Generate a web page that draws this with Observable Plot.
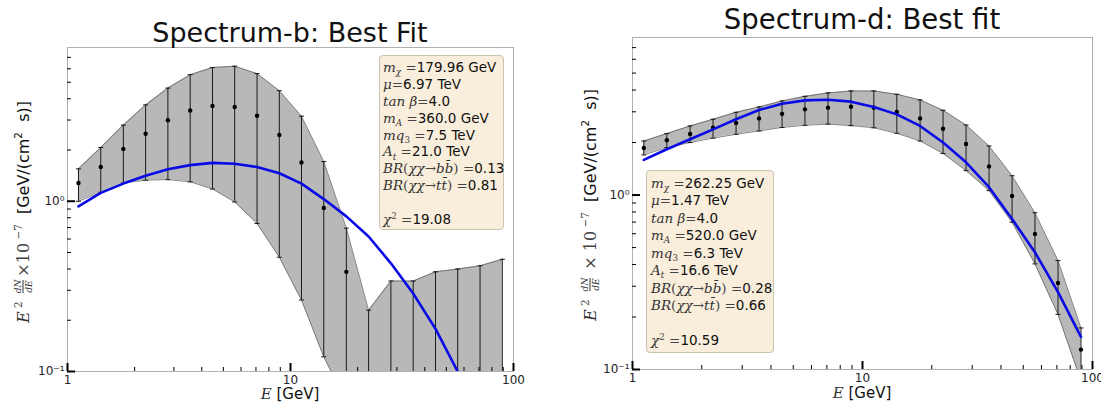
<!DOCTYPE html>
<html><head><meta charset="utf-8">
<script src="https://cdn.jsdelivr.net/npm/d3@7"></script>
<script src="https://cdn.jsdelivr.net/npm/@observablehq/plot@0.6"></script>
<style>
body{margin:0;background:#fff;}
#root{position:relative;width:1101px;height:405px;overflow:hidden;background:#fff;font-family:"DejaVu Sans",sans-serif;}
.panel{position:absolute;top:0;}
.title{position:absolute;white-space:nowrap;transform:translateX(-50%);color:#111;}
.xlab{position:absolute;font-size:15px;white-space:nowrap;transform:translate(-50%,-50%);color:#111;}
.ylab{position:absolute;font-size:16px;white-space:nowrap;transform:translate(-50%,-50%) rotate(-90deg);display:flex;align-items:center;color:#111;}
.mi{font-family:"DejaVu Serif",serif;font-style:italic;color:#333;}
.mr{font-family:"DejaVu Serif",serif;color:#444;}
.frac{display:inline-flex;flex-direction:column;align-items:center;font-size:9px;line-height:10px;margin:0 3px;}
.frac span:first-child{border-bottom:0.8px solid #333;}
.sp{font-size:65%;position:relative;top:-0.55em;}
.sb{font-size:65%;position:relative;top:0.35em;}
.legend{position:absolute;background:#f9eedb;border:1px solid #cbc2b0;border-radius:4px;box-sizing:border-box;color:#111;}
.legend div{white-space:nowrap;}
</style>
</head><body>
<div id="root"></div>
<script>
// ---------- data ----------
const energyBins = [1.12, 1.41, 1.78, 2.24, 2.82, 3.55, 4.47, 5.62, 7.08, 8.91, 11.2, 14.1, 17.8, 22.4, 28.2, 35.5, 44.7, 56.2, 70.8, 89.1];

const specBFlux = [1.28, 1.59, 2.03, 2.49, 2.99, 3.41, 3.63, 3.58, 3.18, 2.45, 1.69, 0.913, 0.385, null, null, null, null, null, null, null];
const specBHigh = [1.55, 2.07, 2.80, 3.68, 4.62, 5.54, 6.10, 6.21, 5.62, 4.46, 3.16, 1.71, 0.695, 0.229, 0.340, 0.340, 0.385, 0.400, 0.418, 0.456];
const specBLow  = [1.00, 1.13, 1.28, 1.33, 1.34, 1.30, 1.18, 0.99, 0.74, 0.469, 0.263, 0.122, 0.066, 0.03, 0.03, 0.03, 0.03, 0.03, 0.03, 0.03];
const specBFit  = [0.934, 1.12, 1.27, 1.41, 1.54, 1.63, 1.68, 1.66, 1.59, 1.46, 1.27, 1.03, 0.815, 0.621, 0.432, 0.287, 0.178, 0.100, null, null];

const specDFlux = [1.86, 2.06, 2.24, 2.43, 2.59, 2.75, 2.92, 3.10, 3.17, 3.21, 3.17, 2.99, 2.75, 2.40, 1.96, 1.46, 0.987, 0.598, 0.313, 0.130];
const specDHigh = [2.04, 2.25, 2.49, 2.72, 2.98, 3.20, 3.46, 3.68, 3.85, 3.95, 3.95, 3.78, 3.51, 3.06, 2.52, 1.91, 1.29, 0.792, 0.421, 0.173];
const specDLow  = [1.70, 1.87, 2.00, 2.12, 2.23, 2.33, 2.44, 2.51, 2.55, 2.50, 2.43, 2.26, 2.04, 1.73, 1.38, 1.06, 0.698, 0.403, 0.207, 0.086];
const specDFit  = [1.59, 1.83, 2.09, 2.38, 2.72, 3.07, 3.34, 3.49, 3.52, 3.43, 3.20, 2.90, 2.49, 2.00, 1.54, 1.11, 0.729, 0.470, 0.278, 0.154];

const xMajorTicks = [1, 10, 100];
const xMinorTicks = [2, 3, 4, 5, 6, 7, 8, 9, 20, 30, 40, 50, 60, 70, 80, 90];
const yMajorTicks = [0.1, 1];
const yMinorTicks = [0.2, 0.3, 0.4, 0.5, 0.6, 0.7, 0.8, 0.9, 2, 3, 4, 5, 6, 7];
const yTickText = {"0.1": "10⁻¹", "1": "10⁰"};

const titles = ["Spectrum-b: Best Fit", "Spectrum-d: Best fit"];
const legendB = [
  ['<span class="mi">m</span><span class="sb mi">χ</span> <span class="mr">=</span>', '179.96 GeV'],
  ['<span class="mi">μ</span><span class="mr">=</span>', '6.97 TeV'],
  ['<span class="mi">tan β</span><span class="mr">=</span>', '4.0'],
  ['<span class="mi">m</span><span class="sb mi">A</span> <span class="mr">=</span>', '360.0 GeV'],
  ['<span class="mi">mq</span><span class="sb mr">3</span> <span class="mr">=</span>', '7.5 TeV'],
  ['<span class="mi">A</span><span class="sb mi">t</span> <span class="mr">=</span>', '21.0 TeV'],
  ['<span class="mi">BR</span><span class="mr">(</span><span class="mi">χχ</span><span class="mr">→</span><span class="mi">bb̄</span><span class="mr">)</span> <span class="mr">=</span>', '0.13'],
  ['<span class="mi">BR</span><span class="mr">(</span><span class="mi">χχ</span><span class="mr">→</span><span class="mi">tt̄</span><span class="mr">)</span> <span class="mr">=</span>', '0.81'],
  ['', ''],
  ['<span class="mi">χ</span><span class="sp mr">2</span> <span class="mr">=</span>', '19.08']
];
const legendD = [
  ['<span class="mi">m</span><span class="sb mi">χ</span> <span class="mr">=</span>', '262.25 GeV'],
  ['<span class="mi">μ</span><span class="mr">=</span>', '1.47 TeV'],
  ['<span class="mi">tan β</span><span class="mr">=</span>', '4.0'],
  ['<span class="mi">m</span><span class="sb mi">A</span> <span class="mr">=</span>', '520.0 GeV'],
  ['<span class="mi">mq</span><span class="sb mr">3</span> <span class="mr">=</span>', '6.3 TeV'],
  ['<span class="mi">A</span><span class="sb mi">t</span> <span class="mr">=</span>', '16.6 TeV'],
  ['<span class="mi">BR</span><span class="mr">(</span><span class="mi">χχ</span><span class="mr">→</span><span class="mi">bb̄</span><span class="mr">)</span> <span class="mr">=</span>', '0.28'],
  ['<span class="mi">BR</span><span class="mr">(</span><span class="mi">χχ</span><span class="mr">→</span><span class="mi">tt̄</span><span class="mr">)</span> <span class="mr">=</span>', '0.66'],
  ['', ''],
  ['<span class="mi">χ</span><span class="sp mr">2</span> <span class="mr">=</span>', '10.59']
];

// ---------- drawing ----------
const capSymbol = {draw(ctx) { ctx.moveTo(-2.5, 0); ctx.lineTo(2.5, 0); }};

function panel(flux, low, high, fit, g) {
  const pts = energyBins.map((E, i) => ({E, f: flux[i], lo: low[i], hi: high[i], fit: fit[i]}));
  const fw = g.width - g.mL - g.mR, fh = g.height - g.mT - g.mB;
  return Plot.plot({
    width: g.width, height: g.height,
    marginLeft: g.mL, marginRight: g.mR, marginTop: g.mT, marginBottom: g.mB,
    x: {type: "log", domain: [1, 100]},
    y: {type: "log", domain: [0.1, 8]},
    style: {fontFamily: "DejaVu Sans", fontSize: "12px", color: "#222", background: "transparent", overflow: "hidden"},
    marks: [
      Plot.areaY(pts, {x: "E", y1: "lo", y2: "hi", fill: "#b8b8b8", clip: true}),
      Plot.line(pts, {x: "E", y: "hi", stroke: "#555", strokeWidth: 0.7, clip: true}),
      Plot.line(pts, {x: "E", y: "lo", stroke: "#555", strokeWidth: 0.7, clip: true}),
      Plot.ruleX(pts, {x: "E", y1: "lo", y2: "hi", stroke: "#1a1a1a", strokeWidth: 1, clip: true}),
      Plot.dot(pts, {x: "E", y: "hi", symbol: capSymbol, stroke: "#1a1a1a", fill: "none", strokeWidth: 1, clip: true}),
      Plot.dot(pts, {x: "E", y: "lo", symbol: capSymbol, stroke: "#1a1a1a", fill: "none", strokeWidth: 1, clip: true}),
      Plot.dot(pts.filter(d => d.f != null), {x: "E", y: "f", r: 2.2, fill: "#000", stroke: "none"}),
      Plot.line(pts.filter(d => d.fit != null), {x: "E", y: "fit", stroke: "#0a0ae6", strokeWidth: 2.6, clip: true}),
      Plot.frame({stroke: "#b0b0b0", strokeWidth: 1}),
      Plot.ruleX(xMinorTicks, {x: d => d, insetTop: fh - 4, stroke: "#000", strokeWidth: 1}),
      Plot.ruleX(xMajorTicks, {x: d => d, insetTop: fh - 8, stroke: "#000", strokeWidth: 2}),
      Plot.ruleY(yMinorTicks, {y: d => d, insetRight: fw - 4, stroke: "#000", strokeWidth: 1}),
      Plot.ruleY(yMajorTicks, {y: d => d, insetRight: fw - 8, stroke: "#000", strokeWidth: 2}),
      Plot.axisX({ticks: xMajorTicks, tickSize: 0, tickPadding: 4, tickFormat: d => String(d), label: null}),
      Plot.axisY({ticks: yMajorTicks, tickSize: 0, tickPadding: 3, tickFormat: d => yTickText[String(d)], label: null})
    ]
  });
}

const root = document.getElementById("root");
function place(el, left) { el.classList.add("panel"); el.style.left = left + "px"; root.appendChild(el); }

place(panel(specBFlux, specBLow, specBHigh, specBFit, {width: 550, height: 405, mL: 67, mR: 37, mT: 47, mB: 34}), 0);
place(panel(specDFlux, specDLow, specDHigh, specDFit, {width: 551, height: 405, mL: 82, mR: 9, mT: 37, mB: 36}), 550);

function addHTML(html) { const d = document.createElement("div"); d.innerHTML = html; const el = d.firstElementChild; root.appendChild(el); return el; }

addHTML(`<div class="title" style="left:290px;top:19px;font-size:27px;line-height:27px">${titles[0]}</div>`);
addHTML(`<div class="title" style="left:862px;top:6px;font-size:27.5px;line-height:27.5px">${titles[1]}</div>`);

const xl = '<span class="mi">E</span>&nbsp;[GeV]';
addHTML(`<div class="xlab" style="left:290px;top:394px">${xl}</div>`);
addHTML(`<div class="xlab" style="left:862px;top:393px">${xl}</div>`);

const ylB = '<span class="mi">E</span><span class="sp mr">&nbsp;2</span>&nbsp;<span class="frac mi"><span>dN</span><span>dE</span></span><span class="mr">×10</span><span class="sp mr">&nbsp;−7</span>&nbsp;&nbsp;[GeV/(cm<span class="sp">2</span>&nbsp;&nbsp;s)]';
const ylD = '<span class="mi">E</span><span class="sp mr">&nbsp;2</span>&nbsp;<span class="frac mi"><span>dN</span><span>dE</span></span>&nbsp;<span class="mr">×&nbsp;10</span><span class="sp mr">&nbsp;−7</span>&nbsp;&nbsp;[GeV/(cm<span class="sp">2</span>&nbsp;&nbsp;s)]';
addHTML(`<div class="ylab" style="left:23px;top:212px">${ylB}</div>`);
addHTML(`<div class="ylab" style="left:590px;top:205px">${ylD}</div>`);

function legend(rows, box) {
  const lines = rows.map(([m, v]) => `<div style="height:${box.lh}px;line-height:${box.lh}px">${m}${v}</div>`).join("");
  addHTML(`<div class="legend" style="left:${box.x}px;top:${box.y}px;width:${box.w}px;height:${box.h}px;padding:${box.pt}px 0 0 ${box.pl}px;font-size:${box.fs}px">${lines}</div>`);
}
legend(legendB, {x: 379, y: 55, w: 125, h: 175, lh: 16.9, pt: 3, pl: 3, fs: 13.5});
legend(legendD, {x: 646, y: 170, w: 128, h: 183, lh: 17.45, pt: 4, pl: 4, fs: 13.5});
</script>
</body></html>
